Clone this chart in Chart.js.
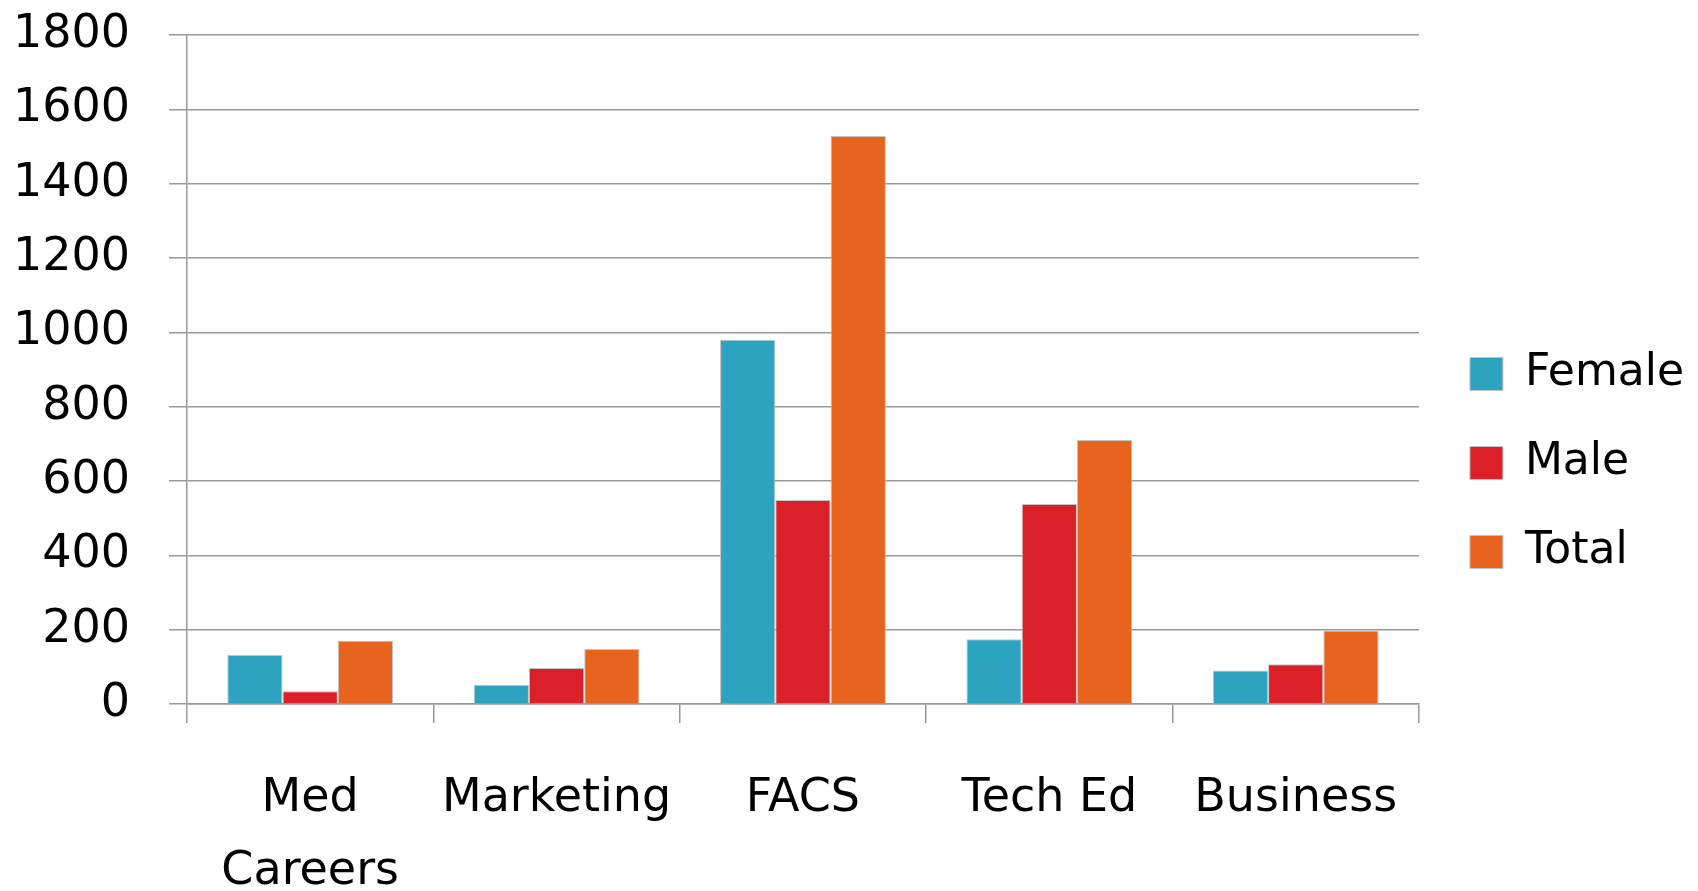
<!DOCTYPE html>
<html>
<head>
<meta charset="utf-8">
<script src="https://cdn.jsdelivr.net/npm/chart.js@4/dist/chart.umd.min.js"></script>
<style>
  html, body { margin: 0; padding: 0; background: #fff; overflow: hidden; }
  #wrap { width: 1698px; height: 891px; }
</style>
</head>
<body>
<div id="wrap"><canvas id="chart"></canvas></div>
<script>
// --- données --- //
const categories = [["Med", "Careers"], "Marketing", "FACS", "Tech Ed", "Business"];
const female = [132, 52, 980, 174, 90];
const male = [34, 97, 549, 538, 107];
const total = [170, 148, 1528, 710, 198];
const yTicks = [0, 200, 400, 600, 800, 1000, 1200, 1400, 1600, 1800];

const font = { family: "'DejaVu Sans', sans-serif", size: 46 };
const gridColor = '#999999';

function serie(label, values, color) {
    return {
        label: label,
        data: values,
        backgroundColor: color,
        borderColor: '#c4c4c4',
        borderWidth: 1,
        categoryPercentage: 0.673,
        barPercentage: 1
    };
}

const ctx = document.getElementById("chart").getContext('2d');

new Chart(ctx, {
    type: 'bar',
    data: {
        labels: categories,
        datasets: [
            serie("Female", female, '#2ca3bf'),
            serie("Male", male, '#da2029'),
            serie("Total", total, '#e8641e')
        ]
    },
    options: {
        responsive: true,
        maintainAspectRatio: false,
        animation: false,
        layout: { padding: { top: 35, left: 10, right: 4, bottom: 0 } },
        plugins: {
            tooltip: { enabled: false },
            legend: {
                position: 'right',
                labels: {
                    color: '#000',
                    font: { ...font, size: 44 },
                    boxWidth: 33,
                    boxHeight: 33,
                    padding: 45
                }
            }
        },
        scales: {
            x: {
                offset: true,
                afterFit: axis => { axis.height = 187; },
                grid: {
                    offset: true,
                    drawOnChartArea: false,
                    drawTicks: true,
                    tickLength: 19,
                    color: gridColor,
                    lineWidth: 1.5
                },
                border: { display: true, color: gridColor, width: 1.5 },
                ticks: {
                    color: '#000',
                    font: { ...font, lineHeight: 1.6 },
                    padding: 39,
                    maxRotation: 0,
                    autoSkip: false
                }
            },
            y: {
                min: 0,
                max: 1800,
                afterBuildTicks: axis => { axis.ticks = yTicks.map(v => ({ value: v })); },
                afterFit: axis => {
                    axis.width = 177;
                    axis.paddingTop = 0;
                    axis.paddingBottom = 0;
                },
                grid: {
                    color: gridColor,
                    lineWidth: 1.5,
                    tickLength: 18
                },
                border: { display: true, color: gridColor, width: 1.5 },
                ticks: {
                    color: '#000',
                    font: font,
                    padding: 39,
                    callback: v => String(v)
                }
            },
            // petit espace entre le graphique et la légende
            gap: {
                type: 'linear',
                position: 'right',
                display: true,
                grid: { display: false },
                border: { display: false },
                ticks: { display: false },
                afterFit: axis => { axis.width = 6; }
            }
        }
    }
});
</script>
</body>
</html>
